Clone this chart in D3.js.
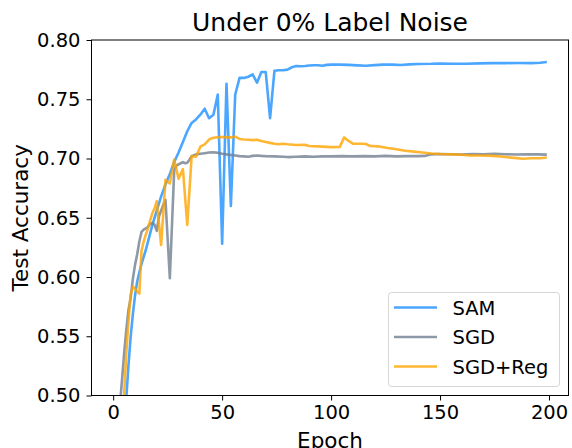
<!DOCTYPE html>
<html>
<head>
<meta charset="utf-8">
<script src="https://cdn.jsdelivr.net/npm/d3@7"></script>
<style>
  body { margin: 0; background: #fff; }
  svg { display: block; font-family: "DejaVu Sans", sans-serif; }
</style>
</head>
<body>
<svg width="572" height="448"></svg>
<script>
// test accuracy per epoch
var samEpoch = [5,6,7,8,9,10,11,12,13,14,15,16,17,18,19,20,22,24,26,28,30,32,34,36,38,40,42,44,46,48,50,52,54,56,58,60,62,64,66,68,70,72,74,76,78,80,82,84,86,88,90,92,94,96,98,100,104,108,112,116,120,124,128,132,136,140,146,150,156,162,168,174,180,186,192,196,199];
var samAcc = [0.465,0.497,0.525,0.549,0.568,0.584,0.596,0.604,0.611,0.617,0.623,0.630,0.637,0.644,0.650,0.656,0.668,0.678,0.687,0.697,0.705,0.714,0.723,0.730,0.733,0.737,0.742,0.734,0.737,0.754,0.628,0.763,0.660,0.754,0.768,0.768,0.769,0.771,0.764,0.773,0.773,0.734,0.774,0.7745,0.7745,0.775,0.777,0.778,0.7778,0.778,0.7785,0.7787,0.7787,0.7783,0.779,0.7792,0.7792,0.779,0.7786,0.7783,0.7788,0.7792,0.7792,0.7789,0.7794,0.7797,0.7799,0.7802,0.7799,0.7799,0.7803,0.7805,0.7805,0.7806,0.7805,0.7808,0.7815];

var sgdEpoch = [2,3,4,5,6,7,8,9,10,11,12,13,14,15,16,17,18,19,20,21,22,23,24,26,28,29,30,31,32,33,34,35,36,38,40,42,44,46,48,50,52,54,56,58,60,62,64,66,68,70,74,78,80,84,88,92,96,100,105,110,115,120,125,130,135,140,143,146,150,155,160,165,170,175,180,185,190,195,199];
var sgdAcc = [0.47,0.49,0.512,0.535,0.555,0.572,0.582,0.598,0.610,0.619,0.630,0.638,0.640,0.641,0.6425,0.645,0.6455,0.644,0.639,0.651,0.656,0.661,0.665,0.599,0.690,0.694,0.695,0.696,0.697,0.696,0.6965,0.699,0.702,0.7035,0.704,0.7045,0.705,0.7052,0.7048,0.704,0.7035,0.703,0.7025,0.702,0.7018,0.7015,0.7022,0.7025,0.7022,0.702,0.7018,0.7015,0.7012,0.7015,0.7018,0.7015,0.7018,0.7018,0.702,0.7018,0.702,0.7018,0.7022,0.7018,0.702,0.702,0.7022,0.7035,0.7038,0.7036,0.7034,0.7038,0.7036,0.704,0.7036,0.7034,0.7036,0.7035,0.7033];

var regEpoch = [4,5,6,7,8,9,10,11,12,13,14,15,16,17,18,19,20,22,24,26,28,30,32,34,36,38,40,42,44,46,48,50,52,54,56,58,60,62,64,66,68,70,72,74,76,78,80,84,88,90,94,98,100,104,106,108,110,114,116,118,122,126,130,134,138,142,146,150,156,160,164,168,172,176,180,184,188,192,196,199];
var regAcc = [0.47,0.50,0.535,0.562,0.585,0.592,0.590,0.5875,0.586,0.622,0.630,0.636,0.641,0.648,0.654,0.658,0.664,0.627,0.682,0.679,0.699,0.683,0.691,0.644,0.702,0.7015,0.710,0.712,0.716,0.7175,0.718,0.7182,0.7178,0.7178,0.7185,0.7165,0.716,0.7158,0.7155,0.7158,0.7148,0.714,0.7132,0.7125,0.712,0.7125,0.712,0.7114,0.7115,0.7105,0.7102,0.7098,0.7096,0.7098,0.7178,0.7148,0.7125,0.7125,0.7122,0.7105,0.7102,0.7088,0.7078,0.7065,0.7058,0.705,0.7042,0.7038,0.7035,0.7032,0.7025,0.7025,0.7024,0.702,0.7012,0.7005,0.6998,0.7002,0.7002,0.7008];

var seriesNames = ["SAM", "SGD", "SGD+Reg"];
var seriesColors = ["#1e90ff", "#708090", "#ffa500"];
var xTicks = [0, 50, 100, 150, 200];
var yTicks = [0.50, 0.55, 0.60, 0.65, 0.70, 0.75, 0.80];

var series = [
    {name: seriesNames[0], color: seriesColors[0], pts: d3.zip(samEpoch, samAcc)},
    {name: seriesNames[1], color: seriesColors[1], pts: d3.zip(sgdEpoch, sgdAcc)},
    {name: seriesNames[2], color: seriesColors[2], pts: d3.zip(regEpoch, regAcc)}
];

var svg = d3.select("svg");
// plot box (window.top is read-only, so no bare "top")
var box = {left: 91.5, right: 568.5, top: 40, bottom: 395.5};

var x = d3.scaleLinear().domain([-9.95, 208.95]).range([box.left, box.right]);
var y = d3.scaleLinear().domain([0.5, 0.8]).range([box.bottom, box.top]);

svg.append("defs").append("clipPath").attr("id", "plotclip")
    .append("rect")
    .attr("x", box.left).attr("y", box.top)
    .attr("width", box.right - box.left).attr("height", box.bottom - box.top);

var line = d3.line()
    .x(function (d) { return x(d[0]); })
    .y(function (d) { return y(d[1]); });

svg.append("g").attr("clip-path", "url(#plotclip)")
    .selectAll("path")
    .data(series)
    .enter().append("path")
    .attr("fill", "none")
    .attr("stroke", function (d) { return d.color; })
    .attr("stroke-opacity", 0.8)
    .attr("stroke-width", 2.6)
    .attr("stroke-linejoin", "round")
    .attr("d", function (d) { return line(d.pts); });

// axes
var xAxis = svg.append("g")
    .attr("transform", "translate(0," + box.bottom + ")")
    .call(d3.axisBottom(x).tickValues(xTicks).tickSize(5).tickSizeOuter(0).tickPadding(5).tickFormat(d3.format("d")));
var yAxis = svg.append("g")
    .attr("transform", "translate(" + box.left + ",0)")
    .call(d3.axisLeft(y).tickValues(yTicks).tickSize(5).tickSizeOuter(0).tickPadding(6).tickFormat(d3.format(".2f")));

[xAxis, yAxis].forEach(function (g) {
    g.select(".domain").remove();
    g.selectAll("line").attr("stroke", "#000").attr("stroke-width", 1);
    g.selectAll("text")
        .attr("fill", "#000")
        .style("font-family", "DejaVu Sans")
        .style("font-size", "19.5px");
});

// frame
svg.append("rect")
    .attr("x", box.left).attr("y", box.top)
    .attr("width", box.right - box.left).attr("height", box.bottom - box.top)
    .attr("fill", "none").attr("stroke", "#000").attr("stroke-width", 1);

svg.append("text")
    .attr("x", (box.left + box.right) / 2).attr("y", 31)
    .attr("text-anchor", "middle")
    .style("font-size", "25px")
    .text("Under 0% Label Noise");

svg.append("text")
    .attr("x", (box.left + box.right) / 2).attr("y", 447.5)
    .attr("text-anchor", "middle")
    .style("font-size", "21.5px")
    .text("Epoch");

svg.append("text")
    .attr("transform", "translate(27.5," + (box.top + box.bottom) / 2 + ") rotate(-90)")
    .attr("text-anchor", "middle")
    .style("font-size", "21.5px")
    .text("Test Accuracy");

// legend
var lg = svg.append("g").attr("transform", "translate(388,292)");
lg.append("rect")
    .attr("x", 0.5).attr("y", 0.5)
    .attr("width", 171).attr("height", 94)
    .attr("rx", 3)
    .attr("fill", "#fff").attr("fill-opacity", 0.8)
    .attr("stroke", "#d6d6d6").attr("stroke-width", 1);
var item = lg.selectAll(".item")
    .data(series)
    .enter().append("g")
    .attr("class", "item")
    .attr("transform", function (d, i) { return "translate(0," + (15.5 + i * 29.5) + ")"; });
item.append("line")
    .attr("x1", 6).attr("x2", 49)
    .attr("stroke", function (d) { return d.color; })
    .attr("stroke-opacity", 0.8)
    .attr("stroke-width", 2.6);
item.append("text")
    .attr("x", 64.5).attr("y", 0)
    .attr("dy", "0.36em")
    .style("font-size", "19.5px")
    .text(function (d) { return d.name; });
</script>
</body>
</html>
